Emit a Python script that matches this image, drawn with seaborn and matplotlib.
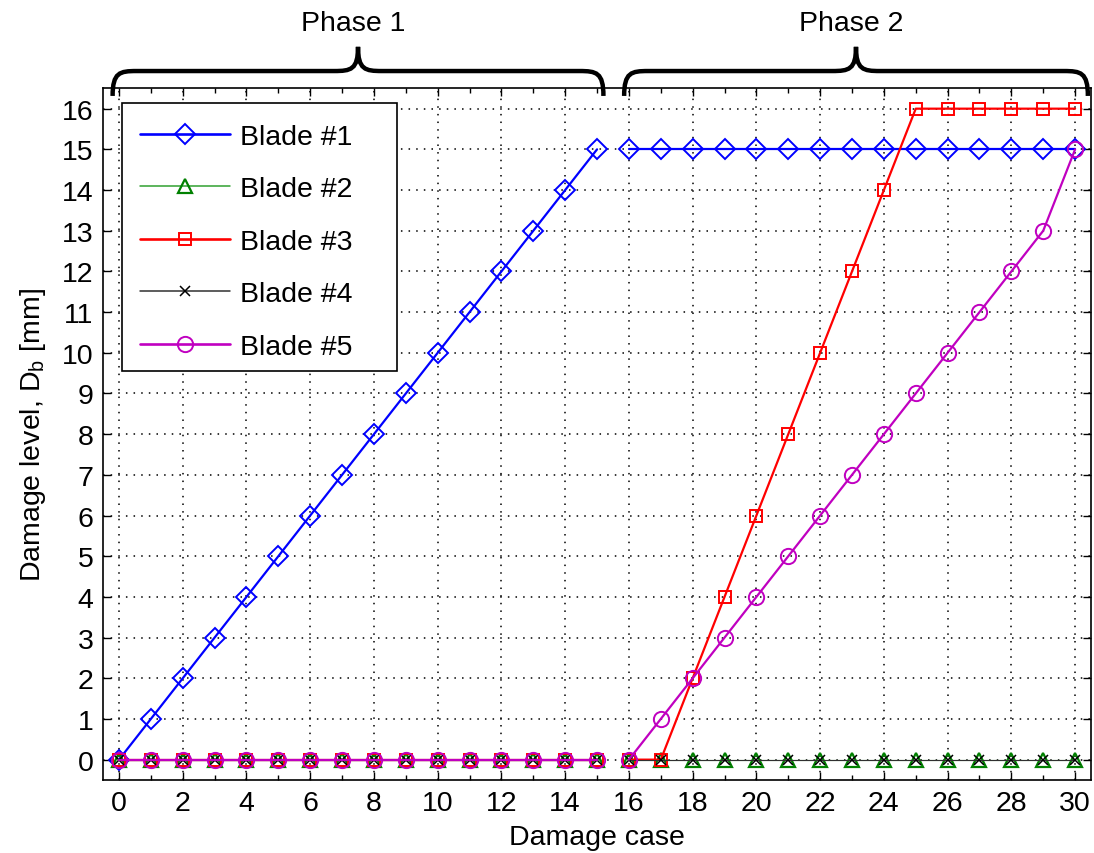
import matplotlib
matplotlib.use("Agg")
import matplotlib.pyplot as plt
import seaborn as sns
import numpy as np
from matplotlib.path import Path
from matplotlib.patches import PathPatch, Rectangle
from matplotlib.lines import Line2D
import matplotlib.transforms as mtrans

# ---------------- data ----------------
cases = list(range(31))
blade1 = list(range(16)) + [15] * 15
blade2 = [0] * 31
blade3 = [0] * 18 + [2, 4, 6, 8, 10, 12, 14] + [16] * 6
blade4 = [0] * 31
blade5 = [0] * 17 + [1, 2, 3, 4, 5, 6, 7, 8, 9, 10, 11, 12, 13] + [15]
series_names = ["Blade #1", "Blade #2", "Blade #3", "Blade #4", "Blade #5"]
phase_labels = ["Phase 1", "Phase 2"]
phase_ranges = [(0, 15), (16, 30)]
x_ticks = list(range(0, 31, 2))
y_ticks = list(range(0, 17))

series = [blade1, blade2, blade3, blade4, blade5]
styles = [
    dict(color="#0000ff", marker="D", ms=10, lw=1.6, mew=1.4),
    dict(color="#008000", marker="^", ms=10, lw=0.8, mew=1.6, lcolor="#30a030"),
    dict(color="#ff0000", marker="s", ms=9, lw=1.6, mew=1.4),
    dict(color="#000000", marker="x", ms=6.5, lw=0.8, mew=1.1, lcolor="#303030"),
    dict(color="#c000c0", marker="o", ms=11, lw=1.6, mew=1.4),
]

FS = 20.5

sns.set_theme(style="ticks")
plt.rcParams["font.family"] = ["Liberation Sans", "DejaVu Sans"]
plt.rcParams["mathtext.fontset"] = "custom"
plt.rcParams["mathtext.rm"] = "Liberation Sans"
plt.rcParams["text.color"] = "black"
plt.rcParams["axes.labelcolor"] = "black"

fig = plt.figure(figsize=(10.94, 8.54), dpi=100)
ax = fig.add_axes([0.0942, 0.0855, 0.9031, 0.8099])

for (a, b) in phase_ranges:
    xs = cases[a:b + 1]
    for vals, st in zip(series, styles):
        sns.lineplot(x=xs, y=vals[a:b + 1], ax=ax, color=st.get("lcolor", st["color"]),
                     linewidth=st["lw"], marker=st["marker"], markersize=st["ms"],
                     markerfacecolor="none", markeredgecolor=st["color"],
                     markeredgewidth=st["mew"], legend=False, estimator=None, sort=False)

ax.set_xlim(-0.5, 30.5)
ax.set_ylim(-0.5, 16.5)
ax.set_xticks(x_ticks)
ax.set_xticks(range(1, 31, 2), minor=True)
ax.set_yticks(y_ticks)
ax.tick_params(axis="both", which="both", direction="in", top=True, right=True,
               labelsize=FS, colors="black", pad=7)
ax.tick_params(which="major", length=6, width=1)
ax.tick_params(which="minor", length=3.5, width=1)
ax.grid(True, which="major", linestyle=(0, (1, 4)), color="black", linewidth=1.1)
for sp in ax.spines.values():
    sp.set_color("black")
    sp.set_linewidth(1.2)

ax.set_xlabel("Damage case", fontsize=FS, labelpad=6, color="black")
ax.set_ylabel("Damage level, D$_\\mathregular{b}$ [mm]", fontsize=FS, labelpad=10, color="black")

# legend (frame drawn as a separate box, MATLAB-style wide)
ax_h_px = 0.8099 * 854
ax_w_px = 0.9031 * 1094
def ax_frac_x(px):
    return (px - 103) / ax_w_px
def ax_frac_y(py):
    return (781 - py) / ax_h_px

frame = Rectangle((ax_frac_x(122), ax_frac_y(372)), ax_frac_x(397) - ax_frac_x(122),
                  ax_frac_y(104) - ax_frac_y(372), transform=ax.transAxes,
                  facecolor="white", edgecolor="black", lw=1.2, zorder=4)
ax.add_patch(frame)

handles = [Line2D([], [], color=st.get("lcolor", st["color"]), lw=st["lw"] + 0.3, marker=st["marker"],
                  ms=st["ms"], mfc="none", mec=st["color"], mew=st["mew"]) for st in styles]
leg = ax.legend(handles, series_names, loc="upper left", fontsize=FS, frameon=False,
                handlelength=3.15, labelspacing=0.93, borderpad=0.0, borderaxespad=0.0,
                handletextpad=0.35, labelcolor="black",
                bbox_to_anchor=(ax_frac_x(140), ax_frac_y(125)))
leg.set_zorder(5)

# braces above the axes
trans = mtrans.blended_transform_factory(ax.transData, ax.transAxes)
def brace(x0, x1, ylow=0.989, ymid=1.025, ytop=1.06, rx=0.75):
    xm = (x0 + x1) / 2
    verts = [
        (x0, ylow), (x0, ymid - 0.002), (x0 + rx * 0.3, ymid), (x0 + rx, ymid),
        (xm - rx, ymid), (xm - rx * 0.3, ymid), (xm, ymid + 0.002), (xm, ytop),
        (xm, ymid + 0.002), (xm + rx * 0.3, ymid), (xm + rx, ymid),
        (x1 - rx, ymid), (x1 - rx * 0.3, ymid), (x1, ymid - 0.002), (x1, ylow),
    ]
    codes = [Path.MOVETO, Path.CURVE4, Path.CURVE4, Path.CURVE4,
             Path.LINETO, Path.CURVE4, Path.CURVE4, Path.CURVE4,
             Path.CURVE4, Path.CURVE4, Path.CURVE4,
             Path.LINETO, Path.CURVE4, Path.CURVE4, Path.CURVE4]
    p = PathPatch(Path(verts, codes), transform=trans, fill=False, lw=3.2,
                  edgecolor="black", clip_on=False, capstyle="butt")
    ax.add_patch(p)

brace_spans = [(-0.2, 15.2), (15.85, 30.4)]
for (x0, x1), lab in zip(brace_spans, phase_labels):
    brace(x0, x1)
    ax.text((x0 + x1) / 2 - 0.15, 1.095, lab, transform=trans, ha="center", va="center",
            fontsize=FS, color="black")

fig.savefig("out.png", dpi=100)
